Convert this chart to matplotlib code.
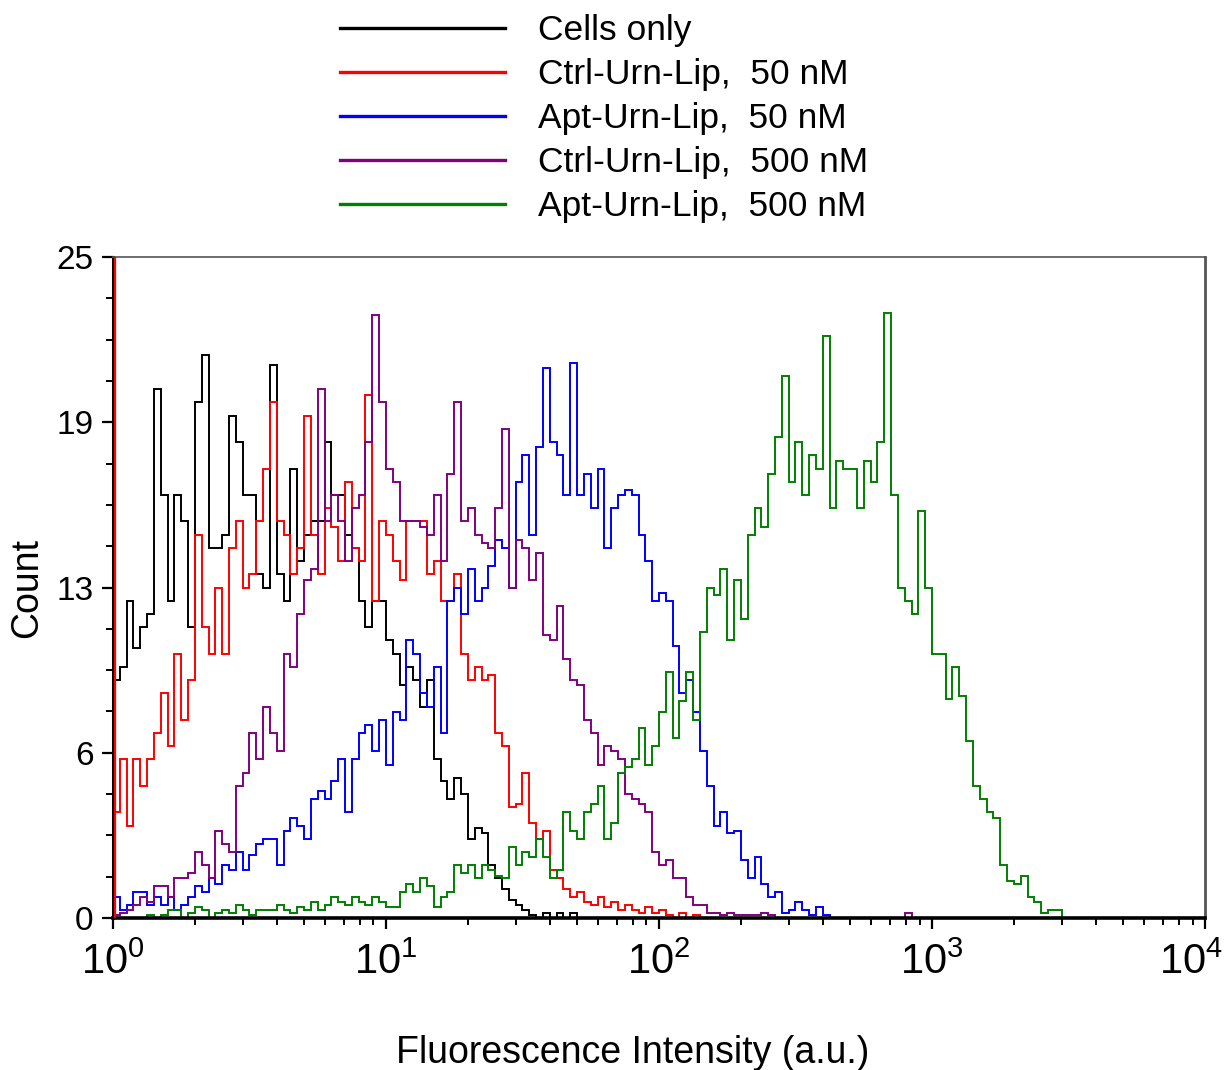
import numpy as np
import matplotlib
matplotlib.use("Agg")
import matplotlib.pyplot as plt
import matplotlib.transforms as mtransforms
from matplotlib.ticker import FixedLocator, MultipleLocator, NullFormatter

plt.rcParams['font.family'] = ['Liberation Sans', 'DejaVu Sans']
plt.rcParams['mathtext.fontset'] = 'custom'
plt.rcParams['mathtext.rm'] = 'Liberation Sans'

# histogram counts, one value per channel (40 channels per decade, starting at 10^0)
cells_only = [
    9, 9.5, 12, 10.2, 11, 11.5, 20, 16, 12, 16, 15, 11, 19.5, 21.3, 14, 14, 14.5, 19, 18, 16, 16, 13, 12.5,
    20.9, 13, 12, 17, 13.5, 14.5, 15, 15, 18, 16, 16, 14.5, 14, 12, 11, 12, 12, 10.5, 10, 8.8, 9.5, 9, 8, 9,
    6, 5.2, 4.5, 5.3, 4.7, 3, 3.4, 3.2, 2, 1.5, 1.1, 0.7, 0.5, 0.3, 0.1, 0, 0.2, 0, 0.2, 0, 0.2, 0, 0,
]
ctrl_50 = [
    4, 6, 3.5, 6, 5, 6, 7, 8.5, 6.5, 10, 7.5, 9, 14.5, 11, 10, 12.5, 10, 14, 15, 12.5, 13, 15, 17,
    19.5, 15, 14.5, 13, 14, 19, 14.5, 13, 15.5, 14.8, 13.5, 16.5, 14, 13.5, 19.8, 12, 15, 14.5, 13.5, 12.8, 15, 15, 15, 13,
    13.5, 12, 12, 13, 10, 9, 9.5, 9, 9.2, 7, 6.5, 4.2, 4.3, 5.5, 3.6, 3, 3.3, 1.8, 1.5, 1.1, 0.8, 1.0, 0.6,
    0.5, 0.8, 0.4, 0.6, 0.3, 0.5, 0.3, 0.2, 0.4, 0.2, 0.3, 0.1, 0, 0.2, 0, 0.1,
]
ctrl_50_first_channel = 40
apt_50 = [
    0.8, 0.3, 0.5, 1.0, 1.0, 0.5, 0.8, 0.5, 0.8, 0.3, 0.5, 0.8, 1.2, 1.0, 1.5, 1.3, 2.0, 1.8, 2.5, 1.8, 2.4, 2.8, 3.0,
    3, 2, 3.3, 3.8, 3.5, 3, 4.5, 4.8, 4.5, 5.2, 6, 4, 6, 7, 7.3, 6.3, 7.5, 5.8, 7.8, 7.5, 10.5, 10, 8.5, 8,
    9.5, 7, 12, 12.5, 11.5, 13.2, 12, 12.5, 13.3, 14.3, 14, 12.5, 16.5, 17.5, 14.5, 17.8, 20.8, 18, 17.5, 16, 21, 16, 16.8,
    15.5, 17, 14, 15.5, 16, 16.2, 16, 14.5, 13.5, 12, 12.3, 12, 10.3, 8.5, 9, 7.8, 6.3, 5.0, 3.5, 4.0, 3.2, 3.3, 2.2, 1.5,
    2.3, 1.3, 0.8, 1.0, 0.2, 0.3, 0.6, 0.3, 0.1, 0.4, 0.1, 0,
]
ctrl_500 = [
    0.1, 0.2, 0.3, 0.5, 0.8, 0.6, 1.2, 1.2, 0.8, 1.5, 1.5, 1.7, 2.5, 2.0, 1.5, 3.3, 2.8, 2.5, 5, 5.5, 7, 6, 8,
    7, 6.3, 10, 9.5, 11.5, 12.8, 13.2, 20, 15, 16, 15, 13.5, 15.5, 16, 18, 22.8, 19.5, 17, 16.5, 15, 15, 15, 14.8, 14.5,
    16, 13.5, 16.8, 19.5, 15, 15.5, 14.5, 14.2, 14, 15.5, 18.5, 12.5, 14.3, 14, 12.8, 13.8, 10.7, 10.5, 11.8, 9.8, 9.0, 8.8, 7.5,
    7, 5.8, 6.5, 6.3, 6.0, 4.7, 4.5, 4.3, 4.0, 2.5, 2.0, 2.2, 1.5, 1.5, 0.8, 0.5, 0.5, 0.2, 0.2, 0.1, 0.2, 0.1, 0.1, 0.1,
    0.1, 0.2, 0.1, 0, 0, 0, 0, 0, 0, 0, 0, 0, 0, 0, 0, 0, 0, 0, 0, 0, 0, 0, 0.2,
]
apt_500 = [
    0, 0, 0, 0, 0, 0.1, 0, 0.1, 0.3, 0.3, 0, 0.2, 0.4, 0.3, 0, 0.2, 0.3, 0.2, 0.5, 0.3, 0.1, 0.3, 0.3,
    0.3, 0.5, 0.3, 0.2, 0.4, 0.3, 0.6, 0.3, 0.5, 0.8, 0.6, 0.5, 0.8, 0.6, 0.5, 0.8, 0.6, 0.4, 0.4, 1.0, 1.3, 1.0, 1.5, 1.2,
    0.4, 0.8, 1.0, 2.0, 1.7, 2.0, 1.5, 2.0, 1.8, 1.6, 1.5, 2.7, 2.0, 2.5, 2.3, 3.0, 2.3, 1.5, 1.8, 4.0, 3.3, 3.0, 4.0,
    4.3, 5, 3, 3.6, 5.5, 5.7, 6.0, 7.2, 5.8, 6.5, 7.8, 9.3, 6.8, 8.2, 9.3, 7.5, 10.8, 12.5, 12.2, 13.2, 10.5, 12.8, 11.3, 14.5,
    15.5, 14.8, 16.8, 18.2, 20.5, 16.5, 18, 16, 17.5, 17, 22, 15.5, 17.3, 17, 17, 15.5, 17.3, 16.5, 18, 22.9, 16, 12.5, 12,
    11.5, 15.4, 12.5, 10, 10, 8.3, 9.5, 8.4, 6.7, 5.0, 4.5, 4.0, 3.8, 2.0, 1.4, 1.3, 1.6, 0.8, 0.6, 0.2, 0.3, 0.3, 0,
]

labels = ["Cells only", "Ctrl-Urn-Lip,  50 nM", "Apt-Urn-Lip,  50 nM",
          "Ctrl-Urn-Lip,  500 nM", "Apt-Urn-Lip,  500 nM"]
colors = ["#000000", "#ff0000", "#0000ff", "#800080", "#008000"]
series = [cells_only, ctrl_50, apt_50, ctrl_500, apt_500]

channels_per_decade = 40

fig = plt.figure(figsize=(12.25, 10.7), dpi=100)
ax = fig.add_axes([0.0922, 0.142, 0.8915, 0.6178])

handles = []
for vals, col, lab in zip(series, colors, labels):
    vals = np.array(vals, dtype=float)
    edges = 10 ** (np.arange(len(vals) + 1) / channels_per_decade)
    ax.stairs(vals, edges, color=col, lw=1.4)
    h, = ax.plot([], [], color=col, lw=2.4, label=lab)
    handles.append(h)

# very first channel of the red histogram is off scale
ax.vlines(1.02, 0, ctrl_50_first_channel, color="#ff0000", lw=1.6, zorder=3)

ax.set_xscale("log")
ax.set_xlim(1, 1e4)
ax.set_ylim(0, 25)

ax.set_yticks([0, 6.25, 12.5, 18.75, 25])
ax.set_yticklabels(["0", "6", "13", "19", "25"])
ax.yaxis.set_minor_locator(MultipleLocator(25 / 16))

ax.xaxis.set_major_locator(FixedLocator([1, 10, 100, 1000, 10000]))
ax.set_xticklabels([r"$10^{0}$", r"$10^{1}$", r"$10^{2}$", r"$10^{3}$", r"$10^{4}$"])
minor = [m * 10 ** k for k in range(4) for m in range(2, 10)]
ax.xaxis.set_minor_locator(FixedLocator(minor))
ax.xaxis.set_minor_formatter(NullFormatter())

ax.tick_params(axis="both", which="major", direction="out", length=8, width=1.6)
ax.tick_params(axis="y", which="major", labelsize=24, pad=6)
ax.tick_params(axis="x", which="major", labelsize=30, pad=10)
ax.tick_params(axis="both", which="minor", direction="out", length=5, width=1.4)

# keep the last decade label inside the figure
last = ax.get_xticklabels()[-1]
last.set_transform(last.get_transform() + mtransforms.ScaledTranslation(-14 / 100, 0, fig.dpi_scale_trans))

ax.spines["bottom"].set_linewidth(2.6)
ax.spines["left"].set_linewidth(2.2)
ax.spines["top"].set_linewidth(1.2)
ax.spines["top"].set_color("#555555")
ax.spines["right"].set_linewidth(2.0)
ax.spines["right"].set_color("#555555")

ax.set_xlabel("Fluorescence Intensity (a.u.)", fontsize=27)
ax.xaxis.set_label_coords(0.476, -0.177)
ax.set_ylabel("Count", fontsize=27)
ax.yaxis.set_label_coords(-0.062, 0.5)

fig.legend(handles=handles, loc="upper left", bbox_to_anchor=(0.266, 1.0),
           frameon=False, fontsize=25.5, handlelength=4.66, handletextpad=0.93,
           labelspacing=0.31, borderaxespad=0)

fig.savefig("out.png", dpi=100)
